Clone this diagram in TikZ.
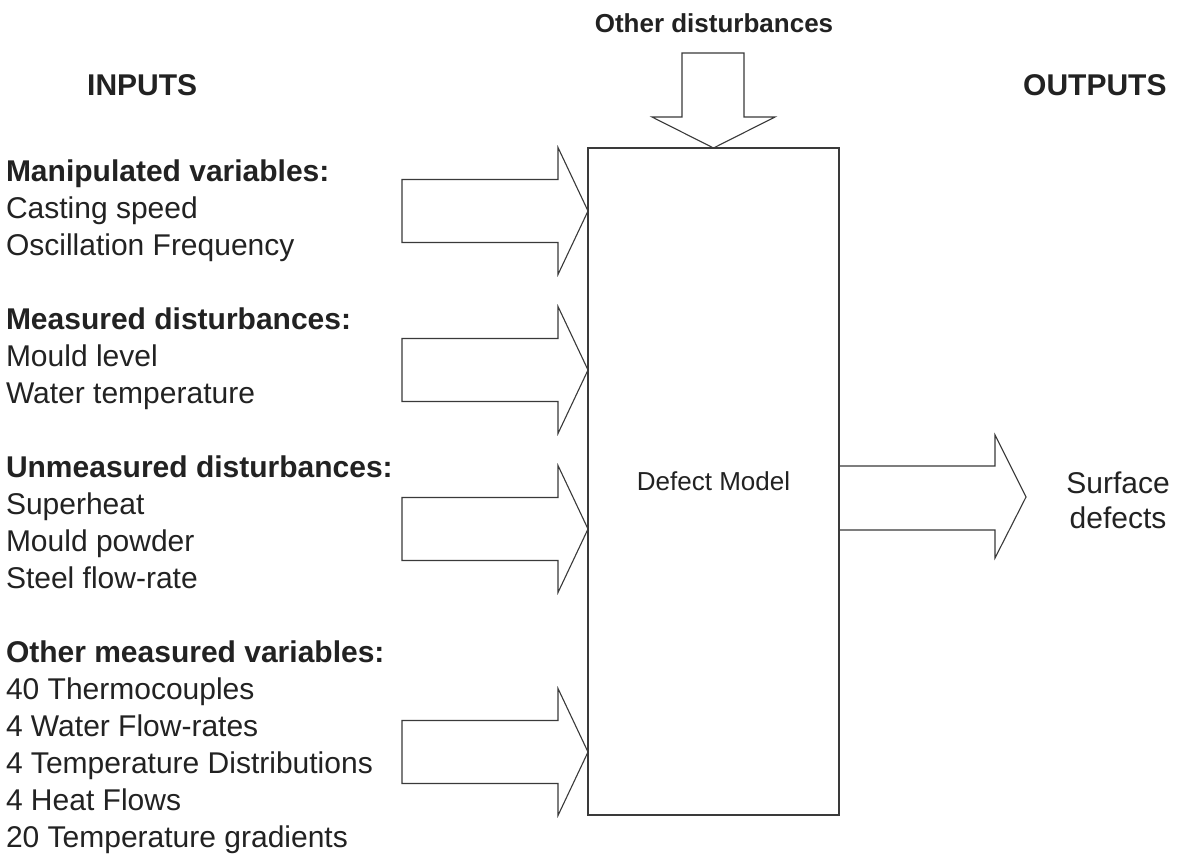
\documentclass[tikz,border=0pt]{standalone}
\usepackage{fontspec}
\setmainfont{Liberation Sans}
\definecolor{ink}{HTML}{222222}
\definecolor{linec}{HTML}{3A3A3A}
\tikzset{
  blk/.style={draw=linec, line width=1.1pt, line join=miter},
  grp/.style={anchor=base west, inner sep=0pt, outer sep=0pt, align=left, text=ink,
              font=\fontsize{30}{37}\selectfont},
  hdr/.style={anchor=base west, inner sep=0pt, text=ink, font=\fontsize{30}{36}\selectfont\bfseries},
  inarrow/.pic={\draw[blk] (-186,-31.5) -- (-30,-31.5) -- (-30,-63.5) -- (0,0) -- (-30,63.5) -- (-30,31.5) -- (-186,31.5) -- cycle;}
}
\begin{document}
\begin{tikzpicture}[x=1pt,y=-1pt]
\useasboundingbox (0,0) rectangle (1185,857);
\fill[white] (0,0) rectangle (1185,857);

% model box
\node[draw=linec, line width=1.1pt, minimum width=251pt, minimum height=667pt,
      inner sep=0pt, outer sep=0pt, anchor=north west, text=ink,
      font=\fontsize{26}{30}\selectfont] (model) at (588,148) {Defect Model};

% input arrows
\pic at (588,211) {inarrow};
\pic at (588,370) {inarrow};
\pic at (588,529) {inarrow};
\pic at (588,752) {inarrow};

% top arrow
\draw[blk] (682,53) -- (744,53) -- (744,117) -- (775,117) -- (model.north) -- (652,117) -- (682,117) -- cycle;

% output arrow
\coordinate (otip) at (1026,497);
\draw[blk] (model.east |- 0,466) -- (995,466) -- (995,435) -- (otip) -- (995,558) -- (995,530) -- (model.east |- 0,530);

% headers
\node[hdr] (inputs) at (87,95) {INPUTS};
\node[hdr] (outputs) at (1023,95) {OUTPUTS};
\node[anchor=base, inner sep=0pt, text=ink, font=\fontsize{26}{30}\selectfont\bfseries] (other) at (714,32) {Other disturbances};

% input groups (anchored at the baseline of their last line)
\node[grp] (g1) at (6,255) {\textbf{Manipulated variables:}\\Casting speed\\Oscillation Frequency};
\node[grp] (g2) at (6,403) {\textbf{Measured disturbances:}\\Mould level\\Water temperature};
\node[grp] (g3) at (6,588) {\textbf{Unmeasured disturbances:}\\Superheat\\Mould powder\\Steel flow-rate};
\node[grp] (g4) at (6,847) {\textbf{Other measured variables:}\\40 Thermocouples\\4 Water Flow-rates\\4 Temperature Distributions\\4 Heat Flows\\20 Temperature gradients};

% output label
\node[anchor=base, inner sep=0pt, align=center, text=ink, font=\fontsize{30}{35}\selectfont] (surf) at (1118,528) {Surface\\defects};
\end{tikzpicture}
\end{document}
